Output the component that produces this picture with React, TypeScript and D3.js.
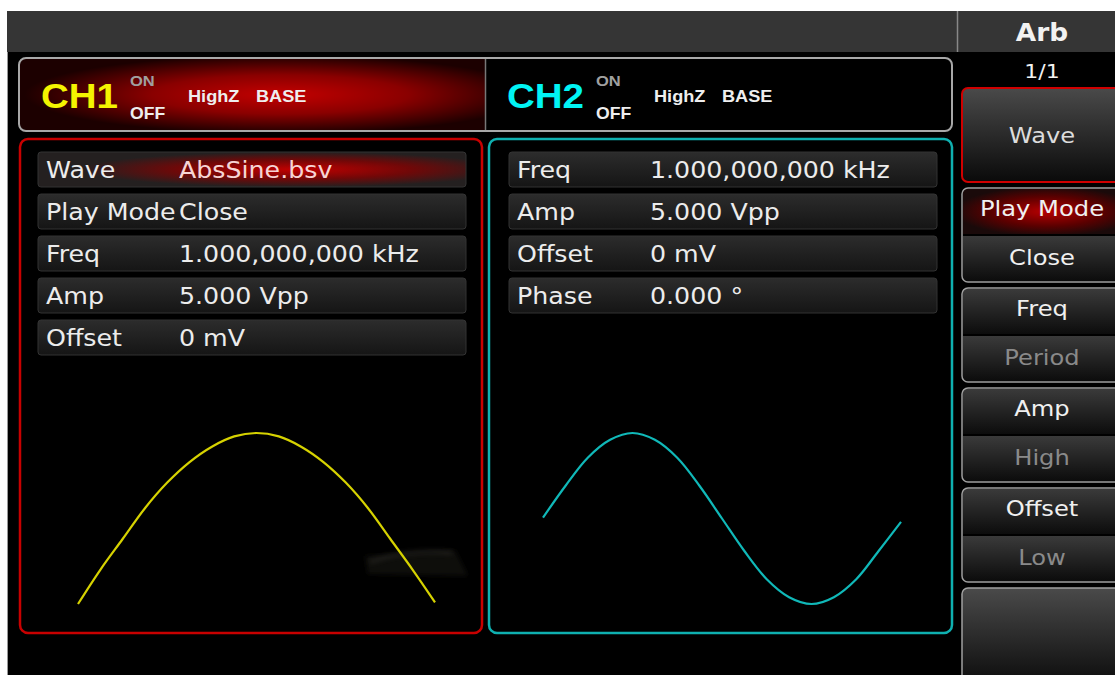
import * as d3 from "d3"

// channel header
const channelNames = ["CH1", "CH2"]
const headerLoad = ["HighZ", "BASE"]

// parameter rows
const ch1Labels = ["Wave", "Play Mode", "Freq", "Amp", "Offset"]
const ch1Values = ["AbsSine.bsv", "Close", "1.000,000,000 kHz", "5.000 Vpp", "0 mV"]
const ch2Labels = ["Freq", "Amp", "Offset", "Phase"]
const ch2Values = ["1.000,000,000 kHz", "5.000 Vpp", "0 mV", "0.000 °"]

// soft menu
const menuTitle = "Arb"
const menuPage = "1/1"
const menuFirst = "Wave"
const menuTop = ["Play Mode", "Freq", "Amp", "Offset"]
const menuBottom = ["Close", "Period", "High", "Low"]

// waveform previews (phase 0..1)
const wavePhase = [0, 0.0625, 0.125, 0.1875, 0.25, 0.3125, 0.375, 0.4375, 0.5, 0.5625, 0.625, 0.6875, 0.75, 0.8125, 0.875, 0.9375, 1]
const ch1Levels = [0, 0.2, 0.38, 0.56, 0.71, 0.83, 0.92, 0.98, 1, 0.98, 0.92, 0.83, 0.71, 0.56, 0.38, 0.2, 0.01]
const ch2Levels = [0.01, 0.38, 0.71, 0.92, 1, 0.92, 0.71, 0.38, 0, -0.38, -0.71, -0.92, -1, -0.92, -0.71, -0.38, -0.04]

const SX = 1.1
const SANS = "'DejaVu Sans', sans-serif"
const ARIAL = "'Liberation Sans', Arial, sans-serif"

function T(props: any) {
  const { x, y, size, fill, weight, anchor, family, children } = props
  return (
    <text
      transform={`translate(${x},${y}) scale(${SX},1)`}
      fontSize={size}
      fill={fill}
      fontWeight={weight || "normal"}
      textAnchor={anchor || "start"}
      fontFamily={family || SANS}
    >
      {children}
    </text>
  )
}

function Rows({ labels, values, x0, x1, highlightFirst }: any) {
  const y = d3.scaleBand<string>().domain(labels).range([152, 152 + 42 * labels.length - 7]).paddingInner(7 / 42)
  return (
    <g>
      {labels.map((l: string, i: number) => {
        const top = y(l)!
        const hl = highlightFirst && i === 0
        return (
          <g key={l}>
            <rect x={x0} y={top} width={x1 - x0} height={y.bandwidth()} rx={3}
              fill={hl ? "url(#rowRed)" : "url(#rowGray)"} stroke="#333" strokeWidth={1} />
            <T x={x0 + 8} y={top + 26} size={23} fill="#ececec">{l}</T>
            <T x={x0 + 141} y={top + 26} size={23} fill={hl ? "#f6d4d4" : "#ececec"}>{values[i]}</T>
          </g>
        )
      })}
    </g>
  )
}

export default function App() {
  const x1 = d3.scaleLinear().domain([0, 1]).range([78, 435])
  const y1 = d3.scaleLinear().domain([0, 1]).range([604, 433])
  const x2 = d3.scaleLinear().domain([0, 1]).range([543, 901])
  const y2 = d3.scaleLinear().domain([-1, 1]).range([604, 433])

  const path1 = d3.line<number>().x((p) => x1(p)).y((_, i) => y1(ch1Levels[i])).curve(d3.curveCatmullRom)(wavePhase)!
  const path2 = d3.line<number>().x((p) => x2(p)).y((_, i) => y2(ch2Levels[i])).curve(d3.curveCatmullRom)(wavePhase)!

  const menuY = d3.scaleBand<string>().domain(menuTop).range([188, 582]).paddingInner(0.06)
  const headerX = [19, 485]

  return (
    <svg width={1115} height={675} style={{ position: "absolute", left: 0, top: 0, display: "block" }}>
      <defs>
        <linearGradient id="rowGray" x1="0" y1="0" x2="0" y2="1">
          <stop offset="0" stopColor="#2c2c2c" />
          <stop offset="1" stopColor="#151515" />
        </linearGradient>
        <radialGradient id="rowRed" cx="0.6" cy="0.5" r="0.5">
          <stop offset="0" stopColor="#c00000" />
          <stop offset="0.55" stopColor="#700808" />
          <stop offset="1" stopColor="#242020" />
        </radialGradient>
        <radialGradient id="headRed" cx="0.56" cy="0.5" r="0.55">
          <stop offset="0" stopColor="#c40000" />
          <stop offset="0.5" stopColor="#8a0000" />
          <stop offset="1" stopColor="#1c0000" />
        </radialGradient>
        <radialGradient id="btnRed" cx="0.5" cy="0.5" r="0.55">
          <stop offset="0" stopColor="#b80000" />
          <stop offset="0.6" stopColor="#5a0000" />
          <stop offset="1" stopColor="#1a0a0a" />
        </radialGradient>
        <linearGradient id="btnGray" x1="0" y1="0" x2="0" y2="1">
          <stop offset="0" stopColor="#4a4a4a" />
          <stop offset="1" stopColor="#0a0a0a" />
        </linearGradient>
        <linearGradient id="halfGray" x1="0" y1="0" x2="0" y2="1">
          <stop offset="0" stopColor="#3a3a3a" />
          <stop offset="1" stopColor="#0c0c0c" />
        </linearGradient>
        <linearGradient id="sepLine" x1="0" y1="0" x2="1" y2="0">
          <stop offset="0" stopColor="#555" />
          <stop offset="0.5" stopColor="#aaa" />
          <stop offset="1" stopColor="#777" />
        </linearGradient>
        <filter id="blur" x="-20%" y="-50%" width="140%" height="200%">
          <feGaussianBlur stdDeviation="2.5" />
        </filter>
      </defs>

      {/* page background */}
      <rect x={0} y={0} width={1115} height={675} fill="#fff" />
      <rect x={7} y={11} width={1108} height={664} fill="#000" />
      <line x1={7.5} y1={11} x2={7.5} y2={675} stroke="#999" strokeWidth={1} />
      <rect x={7} y={11} width={1108} height={41} fill="#353535" />
      <line x1={957.5} y1={11} x2={957.5} y2={52} stroke="#888" strokeWidth={1.5} />

      {/* channel header */}
      <rect x={20} y={59} width={465} height={71} fill="url(#headRed)" />
      <rect x={19} y={58} width={933} height={73} rx={7} fill="none" stroke="#a8a8a8" strokeWidth={2} />
      <line x1={485.5} y1={59} x2={485.5} y2={130} stroke="#777" strokeWidth={1.5} />
      {channelNames.map((n, i) => {
        const x0 = headerX[i]
        return (
          <g key={n}>
            <T x={x0 + 22} y={108} size={35} weight="bold" family={ARIAL} fill={i === 0 ? "#f4f400" : "#00f4f4"}>{n}</T>
            <T x={x0 + 111} y={86} size={15} weight="bold" family={ARIAL} fill="#a0a0a0">ON</T>
            <T x={x0 + 111} y={119} size={16} weight="bold" family={ARIAL} fill="#eeeeee">OFF</T>
            <T x={x0 + 169} y={102} size={16.5} weight="bold" family={ARIAL} fill="#eeeeee">{headerLoad[0]}</T>
            <T x={x0 + 237} y={102} size={16.5} weight="bold" family={ARIAL} fill="#eeeeee">{headerLoad[1]}</T>
          </g>
        )
      })}

      {/* channel panels */}
      <rect x={20} y={139} width={462} height={494} rx={8} fill="#000" stroke="#c80000" strokeWidth={2.5} />
      <rect x={489} y={139} width={463} height={494} rx={8} fill="#000" stroke="#0fb0b0" strokeWidth={2.5} />

      <Rows labels={ch1Labels} values={ch1Values} x0={38} x1={466} highlightFirst />
      <Rows labels={ch2Labels} values={ch2Values} x0={509} x1={937} />

      {/* reflection artefact on the screen */}
      <g opacity={0.5}>
        <polygon points="365,556 455,550 468,576 368,574" fill="#1e1b18" filter="url(#blur)" />
        <path d="M370,562 Q410,548 452,553" fill="none" stroke="#4a4640" strokeWidth={3} filter="url(#blur)" />
      </g>

      {/* waveforms */}
      <path d={path1} fill="none" stroke="#d6d200" strokeWidth={2.2} />
      <path d={path2} fill="none" stroke="#10b8b8" strokeWidth={2.2} />

      {/* soft menu */}
      <T x={1042} y={41} size={24} weight="bold" anchor="middle" fill="#f2f2f2">{menuTitle}</T>
      <T x={1042} y={78} size={20} anchor="middle" fill="#f2f2f2">{menuPage}</T>

      <rect x={962} y={88} width={170} height={94} rx={6} fill="url(#btnGray)" stroke="#d00000" strokeWidth={2} />
      <T x={1042} y={143} size={22} anchor="middle" fill="#dcdcdc">{menuFirst}</T>

      {menuTop.map((m, i) => {
        const top = menuY(m)!
        const h = menuY.bandwidth()
        return (
          <g key={m}>
            <rect x={963} y={top + 1} width={168} height={h / 2 - 2} fill={i === 0 ? "url(#btnRed)" : "url(#halfGray)"} />
            <rect x={963} y={top + h / 2 + 1} width={168} height={h / 2 - 2} fill="url(#halfGray)" />
            <rect x={962} y={top} width={170} height={h} rx={6} fill="none" stroke="#a0a0a0" strokeWidth={1.5} />
            <line x1={970} y1={top + 47} x2={1115} y2={top + 47} stroke="url(#sepLine)" strokeWidth={2} />
            <T x={1042} y={top + 28} size={22} anchor="middle" fill="#f0f0f0">{m}</T>
            <T x={1042} y={top + 77} size={22} anchor="middle" fill={i === 0 ? "#f0f0f0" : "#8a8a8a"}>{menuBottom[i]}</T>
          </g>
        )
      })}

      <rect x={962} y={588} width={170} height={100} rx={6} fill="url(#btnGray)" stroke="#a0a0a0" strokeWidth={1.5} />
    </svg>
  )
}
